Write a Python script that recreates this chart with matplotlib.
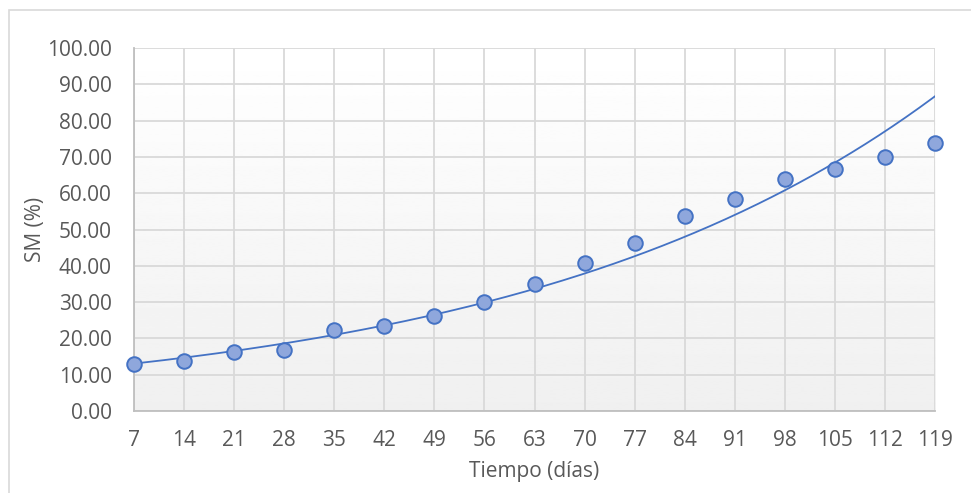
import numpy as np
import matplotlib
matplotlib.use("Agg")
import matplotlib.pyplot as plt
from matplotlib.patches import Rectangle

days = [7, 14, 21, 28, 35, 42, 49, 56, 63, 70, 77, 84, 91, 98, 105, 112, 119]
sm = [12.9, 13.8, 16.3, 16.7, 22.2, 23.5, 26.3, 29.9, 34.9, 40.9, 46.2, 53.8, 58.3, 64.0, 66.7, 70.1, 73.7]
yticks = [0, 10, 20, 30, 40, 50, 60, 70, 80, 90, 100]

plt.rcParams['font.family'] = ['Open Sans', 'DejaVu Sans']

W, H = 971, 493
fig = plt.figure(figsize=(W / 100, H / 100), dpi=100)
fig.patch.set_facecolor('white')

# outer chart border
fig.patches.append(Rectangle((9 / W, -0.05), 1.2, 1 - 10 / H + 0.05, transform=fig.transFigure,
                             fill=False, edgecolor='#d9d9d9', linewidth=1.2))

left, right, top, bottom = 134, 935, 48, 411
ax = fig.add_axes([left / W, 1 - bottom / H, (right - left) / W, (bottom - top) / H])

# gradient background
grad = np.linspace(0.94, 1.0, 256).reshape(-1, 1)
ax.imshow(grad, extent=[0, 1, 0, 1], transform=ax.transAxes, cmap='gray', vmin=0, vmax=1,
          aspect='auto', origin='lower', zorder=0)

ax.set_xlim(7, 119)
ax.set_ylim(0, 100)
ax.set_xticks(days)
ax.set_yticks(yticks)
ax.set_yticklabels([f"{v:.2f}" for v in yticks])
ax.grid(True, color='#d9d9d9', linewidth=1.3, zorder=1)
ax.set_axisbelow(True)
for s in ['top', 'right']:
    ax.spines[s].set_visible(False)
for s in ['left', 'bottom']:
    ax.spines[s].set_color('#bfbfbf')
    ax.spines[s].set_linewidth(1.3)
ax.tick_params(length=0, labelsize=15, colors='#595959')
ax.tick_params(axis='y', pad=16)
ax.tick_params(axis='x', pad=14)

# exponential trendline
x = np.array(days, dtype=float)
y = np.array(sm)
b, lna = np.polyfit(x, np.log(y), 1)
xx = np.linspace(7, 119, 300)
ax.plot(xx, np.exp(lna) * np.exp(b * xx), color='#4472C4', linewidth=1.3, zorder=3)

ax.plot(days, sm, 'o', markersize=10.5, markerfacecolor='#8FA7DC', markeredgecolor='#4472C4',
        markeredgewidth=1.4, zorder=4, clip_on=False)

ax.set_xlabel('Tiempo (días)', fontsize=15, color='#595959', va='center')
ax.set_ylabel('SM (%)', fontsize=15, color='#595959', va='center')
ax.xaxis.set_label_coords(0.5, (bottom - 472) / (bottom - top))
ax.yaxis.set_label_coords((35 - left) / (right - left), 0.5)

fig.savefig('out.png', dpi=100)
